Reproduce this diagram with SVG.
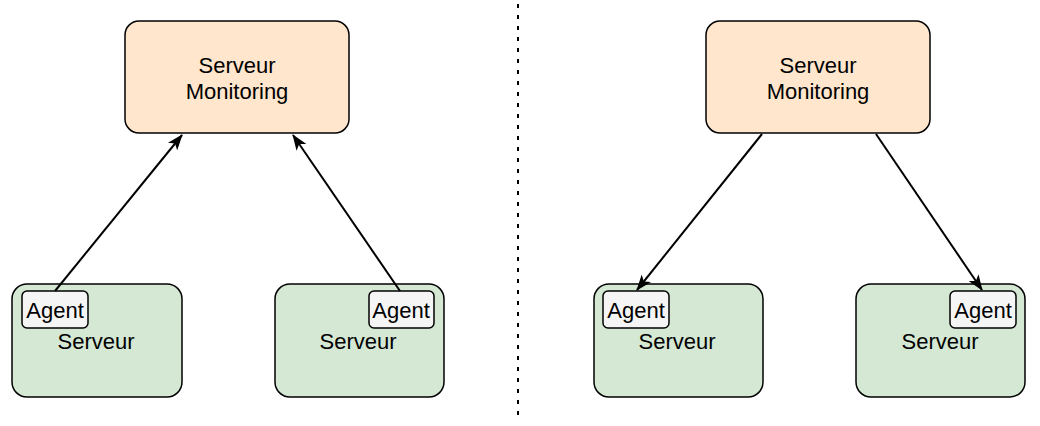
<svg xmlns="http://www.w3.org/2000/svg" width="1040" height="426" viewBox="0 0 1040 426">
<defs>
<style>
.mon{fill:#ffe6cc;stroke:#000;stroke-width:1.5}
.srv{fill:#d5e8d4;stroke:#000;stroke-width:1.5}
.ag{fill:#f5f5f5;stroke:#000;stroke-width:1.5}
text{font-family:"Liberation Sans",Arial,sans-serif;font-size:22px;fill:#000;text-anchor:middle}
.edge{stroke:#000;stroke-width:2;fill:none;marker-end:url(#arr)}
</style>
<marker id="arr" viewBox="0 0 16 12" refX="15" refY="6" markerWidth="16" markerHeight="12" markerUnits="userSpaceOnUse" orient="auto">
<path d="M0,0 L16,6 L0,12 L4,6 Z" fill="#000"/>
</marker>
</defs>
<rect width="1040" height="426" fill="#fff"/>
<line x1="518" y1="4" x2="518" y2="416" stroke="#000" stroke-width="2" stroke-dasharray="4 7"/>
<g id="mon-left"><rect class="mon" x="125" y="21" width="224" height="112" rx="14"/><text x="237" y="73">Serveur</text><text x="237" y="99">Monitoring</text></g>
<g id="mon-right"><rect class="mon" x="706" y="21" width="224" height="112" rx="14"/><text x="818" y="73">Serveur</text><text x="818" y="99">Monitoring</text></g>
<g id="srv1"><rect class="srv" x="12" y="284" width="170" height="113" rx="15"/><text x="96" y="349">Serveur</text></g>
<g id="agent1"><rect class="ag" x="22" y="291" width="66" height="37" rx="5"/><text x="55" y="318">Agent</text></g>
<g id="srv2"><rect class="srv" x="275" y="284" width="169" height="113" rx="15"/><text x="358" y="349">Serveur</text></g>
<g id="agent2"><rect class="ag" x="369" y="291" width="65" height="37" rx="5"/><text x="401" y="318">Agent</text></g>
<g id="srv3"><rect class="srv" x="594" y="284" width="169" height="113" rx="15"/><text x="677" y="349">Serveur</text></g>
<g id="agent3"><rect class="ag" x="603" y="291" width="66" height="37" rx="5"/><text x="636" y="318">Agent</text></g>
<g id="srv4"><rect class="srv" x="856" y="284" width="169" height="113" rx="15"/><text x="940" y="349">Serveur</text></g>
<g id="agent4"><rect class="ag" x="950" y="291" width="66" height="37" rx="5"/><text x="983" y="318">Agent</text></g>
<g id="connectors">
<line class="edge" x1="55" y1="291" x2="182" y2="135"/>
<line class="edge" x1="400" y1="291" x2="293" y2="135"/>
<line class="edge" x1="762" y1="134" x2="637" y2="290"/>
<line class="edge" x1="876" y1="134" x2="982" y2="290"/>
</g>
</svg>
